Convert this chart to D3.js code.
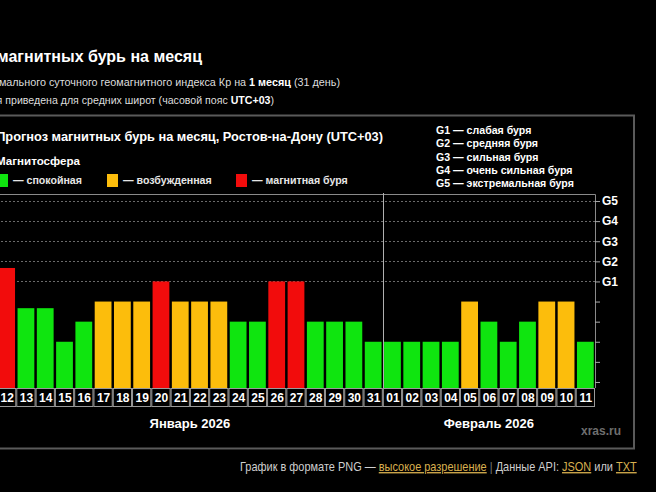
<!DOCTYPE html>
<html>
<head>
<meta charset="utf-8">
<script src="https://cdn.jsdelivr.net/npm/d3@7/dist/d3.min.js"></script>
<style>
  body { margin: 0; background: #000; overflow: hidden; }
  svg { display: block; font-family: "Liberation Sans", Arial, sans-serif; }
</style>
</head>
<body>
<svg width="656" height="492"></svg>
<script>
// Data
var days = ["12","13","14","15","16","17","18","19","20","21","22","23","24","25","26","27","28","29","30","31",
            "01","02","03","04","05","06","07","08","09","10","11"];
var kp = [5.67, 3.67, 3.67, 2, 3, 4, 4, 4, 5, 4, 4, 4, 3, 3, 5, 5, 3, 3, 3, 2,
          2, 2, 2, 2, 4, 3, 2, 3, 4, 4, 2];
var monthNames = ["Январь 2026", "Февраль 2026"];
var monthLengths = [20, 11];
var gLabels = ["G1", "G2", "G3", "G4", "G5"];
var gKp = [5, 6, 7, 8, 9];
var gNames = ["G1 — слабая буря", "G2 — средняя буря", "G3 — сильная буря",
              "G4 — очень сильная буря", "G5 — экстремальная буря"];
var stateNames = ["— спокойная", "— возбужденная", "— магнитная буря"];
var stateColors = ["#0fe50f", "#fcbd0c", "#f20c0c"];

var svg = d3.select("svg");
svg.append("rect").attr("width", 656).attr("height", 492).attr("fill", "#000");

// Page header (cut off on the left side)
svg.append("text")
  .attr("x", 202).attr("y", 62).attr("text-anchor", "end")
  .attr("fill", "#fff").attr("font-size", 16).attr("font-weight", "bold")
  .text("Прогноз магнитных бурь на месяц");

var l2 = svg.append("text")
  .attr("x", 340).attr("y", 86).attr("text-anchor", "end")
  .attr("fill", "#ddd").attr("font-size", 10.8);
l2.append("tspan").text("Прогноз максимального суточного геомагнитного индекса Кр на ");
l2.append("tspan").attr("font-weight", "bold").attr("fill", "#fff").text("1 месяц");
l2.append("tspan").text(" (31 день)");

var l3 = svg.append("text")
  .attr("x", 274).attr("y", 104).attr("text-anchor", "end")
  .attr("fill", "#ddd").attr("font-size", 10.6);
l3.append("tspan").text("Информация приведена для средних широт (часовой пояс ");
l3.append("tspan").attr("font-weight", "bold").attr("fill", "#fff").text("UTC+03");
l3.append("tspan").text(")");

// Chart frame
svg.append("rect")
  .attr("x", -20).attr("y", 115.5).attr("width", 654).attr("height", 333)
  .attr("fill", "none").attr("stroke", "#5a5a5a").attr("stroke-width", 2);

svg.append("text")
  .attr("x", 383).attr("y", 141).attr("text-anchor", "end")
  .attr("fill", "#fff").attr("font-size", 12.8).attr("font-weight", "bold")
  .text("Прогноз магнитных бурь на месяц, Ростов-на-Дону (UTC+03)");

svg.append("text")
  .attr("x", 80).attr("y", 165).attr("text-anchor", "end")
  .attr("fill", "#fff").attr("font-size", 11.6).attr("font-weight", "bold")
  .text("Магнитосфера");

// Magnetosphere legend
var legX = [-3, 107, 236];
var leg = svg.append("g").selectAll("g")
  .data(stateNames).enter().append("g")
  .attr("transform", function(d, i) { return "translate(" + legX[i] + ",174)"; });
leg.append("rect").attr("width", 11).attr("height", 13)
  .attr("fill", function(d, i) { return stateColors[i]; });
leg.append("text").attr("x", 16).attr("y", 10)
  .attr("fill", "#e6e6e6").attr("font-size", 10.6).attr("font-weight", "bold")
  .text(function(d) { return d; });

// G-scale legend
svg.append("g").selectAll("text")
  .data(gNames).enter().append("text")
  .attr("x", 436).attr("y", function(d, i) { return 134 + i * 13.3; })
  .attr("fill", "#fff").attr("font-size", 10.6).attr("font-weight", "bold")
  .text(function(d) { return d; });

// Scales
var plotLeft = -3, plotRight = 595, plotTop = 194, plotBottom = 388;
var x = d3.scaleBand().domain(d3.range(days.length)).range([plotLeft, plotRight])
  .paddingInner(0.13).paddingOuter(0.065);
var xs = d3.scaleBand().domain(d3.range(days.length)).range([plotLeft, plotRight]);
var y = d3.scaleLinear().domain([-0.3, 9.35]).range([plotBottom, plotTop]);
var color = d3.scaleThreshold().domain([4, 5]).range(stateColors);

// Grid lines at G levels
svg.append("g").selectAll("line")
  .data(gKp).enter().append("line")
  .attr("x1", plotLeft).attr("x2", plotRight)
  .attr("y1", function(d) { return Math.round(y(d)) + 0.5; })
  .attr("y2", function(d) { return Math.round(y(d)) + 0.5; })
  .attr("stroke", "#6a6a6a").attr("stroke-dasharray", "2,2");

// Bars
svg.append("g").selectAll("rect")
  .data(kp).enter().append("rect")
  .attr("x", function(d, i) { return x(i); })
  .attr("width", x.bandwidth())
  .attr("y", function(d) { return y(d); })
  .attr("height", function(d) { return plotBottom - y(d); })
  .attr("fill", function(d) { return color(d); });

// Plot border (top and right)
svg.append("path")
  .attr("d", "M" + plotLeft + "," + (plotTop + 0.5) + "H" + (plotRight + 0.5) + "V" + plotBottom)
  .attr("fill", "none").attr("stroke", "#8a8a8a");

// Month separator
var split = Math.round(xs(monthLengths[0])) + 0.5;
svg.append("line")
  .attr("x1", split).attr("x2", split).attr("y1", plotTop - 1).attr("y2", plotBottom)
  .attr("stroke", "#b0b0b0");

// Right axis
var axis = d3.axisRight(y)
  .tickValues(d3.range(0, 10))
  .tickSize(5)
  .tickFormat(function(d) { var k = gKp.indexOf(d); return k >= 0 ? gLabels[k] : ""; });
var ax = svg.append("g").attr("transform", "translate(" + plotRight + ",0)").call(axis);
ax.select(".domain").remove();
ax.selectAll("line").attr("stroke", "#aaa");
ax.selectAll("text").attr("fill", "#fff").attr("font-size", 12).attr("font-weight", "bold")
  .attr("font-family", "Liberation Sans, Arial, sans-serif").attr("x", 7);

// Day labels in boxes
var lab = svg.append("g").selectAll("g")
  .data(days).enter().append("g")
  .attr("transform", function(d, i) { return "translate(" + xs(i) + "," + plotBottom + ")"; });
lab.append("rect").attr("x", 0.5).attr("y", 0.5)
  .attr("width", xs.bandwidth() - 1).attr("height", 18)
  .attr("fill", "#000").attr("stroke", "#9a9a9a");
lab.append("text").attr("x", xs.bandwidth() / 2 + 0.5).attr("y", 14)
  .attr("text-anchor", "middle").attr("fill", "#fff")
  .attr("font-size", 12).attr("font-weight", "bold")
  .text(function(d) { return d; });

// Month names
var start = 0;
monthNames.forEach(function(m, i) {
  var a = xs(start), b = xs(start + monthLengths[i] - 1) + xs.bandwidth();
  svg.append("text")
    .attr("x", (a + b) / 2).attr("y", 428).attr("text-anchor", "middle")
    .attr("fill", "#fff").attr("font-size", 13).attr("font-weight", "bold")
    .text(m);
  start += monthLengths[i];
});

svg.append("text")
  .attr("x", 621).attr("y", 435).attr("text-anchor", "end")
  .attr("fill", "#6e6e6e").attr("font-size", 12).attr("font-weight", "bold")
  .text("xras.ru");

// Footer: narrow look by squeezing the group horizontally
var fg = svg.append("g");
var ft = fg.append("text").attr("x", 0).attr("y", 0)
  .attr("font-size", 13).attr("fill", "#cfcfcf");
ft.append("tspan").text("График в формате PNG — ");
ft.append("tspan").attr("fill", "#d9b04f").attr("text-decoration", "underline").text("высокое разрешение");
ft.append("tspan").attr("fill", "#777").text("  |  ");
ft.append("tspan").text("Данные API: ");
ft.append("tspan").attr("fill", "#d9b04f").attr("text-decoration", "underline").text("JSON");
ft.append("tspan").text(" или ");
ft.append("tspan").attr("fill", "#d9b04f").attr("text-decoration", "underline").text("TXT");
var fw = ft.node().getComputedTextLength();
fg.attr("transform", "translate(240,471) scale(" + (397 / fw) + ",1)");
</script>
</body>
</html>
